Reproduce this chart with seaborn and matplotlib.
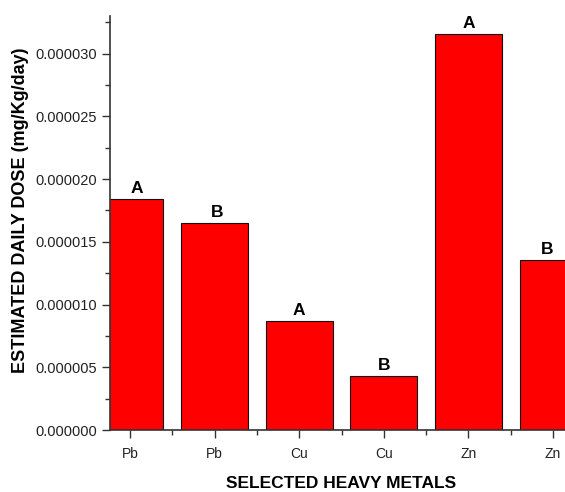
import pandas as pd
import matplotlib
matplotlib.use("Agg")
import matplotlib.pyplot as plt
import seaborn as sns
from matplotlib.ticker import FormatStrFormatter, MultipleLocator

# values
metals = ["Pb", "Pb", "Cu", "Cu", "Zn", "Zn"]
groups = ["A", "B", "A", "B", "A", "B"]
dose = [1.842e-5, 1.650e-5, 8.69e-6, 4.33e-6, 3.156e-5, 1.356e-5]

df = pd.DataFrame({
    "key": [m + g for m, g in zip(metals, groups)],
    "metal": metals,
    "group": groups,
    "dose": dose,
})

sns.set_style("ticks")
plt.rcParams["font.family"] = ["Liberation Sans", "DejaVu Sans"]

fig = plt.figure(figsize=(5.65, 4.92), dpi=100)
ax = fig.add_axes([110 / 565, 62 / 492, 463 / 565, 414 / 492])

sns.barplot(data=df, x="key", y="dose", color="#ff0000", saturation=1,
            width=0.79, edgecolor="#111111", linewidth=0.8, ax=ax)

ax.set_xlim(-0.235, 5.235)
ax.set_ylim(0, 3.3e-5)
ax.set_xticks(range(len(metals)))
ax.set_xticklabels(metals, fontsize=10, color="#222222")
ax.yaxis.set_major_locator(MultipleLocator(5e-6))
ax.yaxis.set_minor_locator(MultipleLocator(2.5e-6))
ax.xaxis.set_minor_locator(MultipleLocator(0.5))
ax.yaxis.set_major_formatter(FormatStrFormatter("%.6f"))
ax.tick_params(axis="y", labelsize=10.5, labelcolor="#222222")
ax.tick_params(axis="x", pad=6)
ax.tick_params(which="major", length=6, width=1, color="#333333")
ax.tick_params(which="minor", length=3.5, width=1, color="#333333")

for s in ["top", "right"]:
    ax.spines[s].set_visible(False)
for s in ["left", "bottom"]:
    ax.spines[s].set_color("#333333")
    ax.spines[s].set_linewidth(1.2)

# letters sit over the visible part of the clipped end bars
nudge = [0.08, 0.03, 0, 0, 0, -0.07]
for i, (g, v) in enumerate(zip(groups, dose)):
    ax.text(i + nudge[i], v + 2.5e-7, g, ha="center", va="bottom",
            fontsize=12.5, fontweight="bold", color="black")

ax.set_xlabel("SELECTED HEAVY METALS", fontsize=12.5, fontweight="bold", color="black")
ax.xaxis.set_label_coords((341 - 110) / 463, -(483 - 430) / 414)
ax.set_ylabel("ESTIMATED DAILY DOSE (mg/Kg/day)", fontsize=13, fontweight="bold",
              color="black")
ax.yaxis.set_label_coords(-(110 - 21) / 463, (430 - 210) / 414)
ax.yaxis.label.set_va("center")
ax.xaxis.label.set_va("center")

fig.savefig("out.png", dpi=100)
